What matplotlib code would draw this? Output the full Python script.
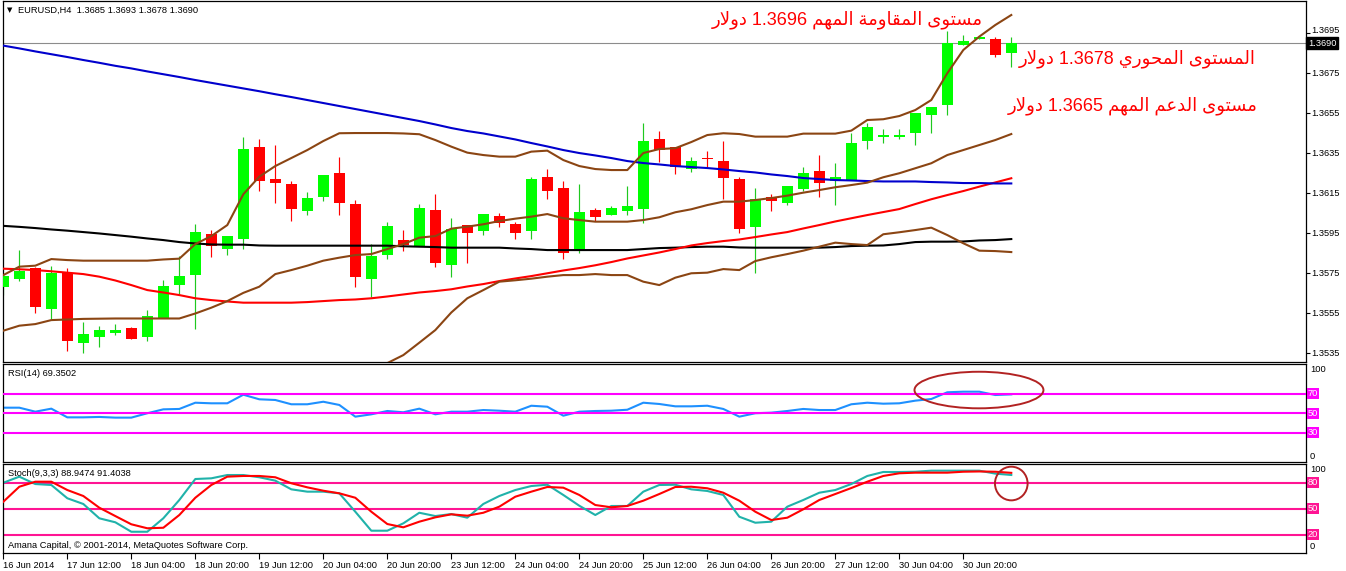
import numpy as np
import matplotlib
matplotlib.use("Agg")
import matplotlib.pyplot as plt
import matplotlib.transforms as mtransforms
from matplotlib.patches import Ellipse

plt.rcParams['font.family'] = ['Liberation Sans', 'DejaVu Sans']

# ---------------- data ----------------
symbol = "EURUSD,H4"
x_labels = ['16 Jun 2014', '17 Jun 12:00', '18 Jun 04:00', '18 Jun 20:00', '19 Jun 12:00',
            '20 Jun 04:00', '20 Jun 20:00', '23 Jun 12:00', '24 Jun 04:00', '24 Jun 20:00',
            '25 Jun 12:00', '26 Jun 04:00', '26 Jun 20:00', '27 Jun 12:00', '30 Jun 04:00',
            '30 Jun 20:00']

opens = [1.35682, 1.35722, 1.35775, 1.35572, 1.35748, 1.35402, 1.35432, 1.35452, 1.35475, 1.35432,
         1.35525, 1.35692, 1.35742, 1.35945, 1.35872, 1.35922, 1.36378, 1.36218, 1.36195, 1.36062,
         1.36132, 1.36248, 1.36095, 1.35722, 1.35842, 1.35915, 1.35885, 1.36065, 1.35792, 1.35988,
         1.35962, 1.36035, 1.35995, 1.35962, 1.36228, 1.36175, 1.35868, 1.36065, 1.36042, 1.36062,
         1.36072, 1.36418, 1.36382, 1.36268, 1.36318, 1.36308, 1.36218, 1.35982, 1.36132, 1.36102,
         1.36172, 1.36258, 1.36208, 1.36215, 1.36408, 1.36428, 1.36428, 1.36448, 1.36538, 1.36588,
         1.36888, 1.36918, 1.36918, 1.36850]
highs = [1.35750, 1.35865, 1.35778, 1.35785, 1.35773, 1.35505, 1.35485, 1.35495, 1.35482, 1.35565,
         1.35715, 1.35835, 1.35995, 1.35965, 1.35935, 1.36428, 1.36418, 1.36388, 1.36208, 1.36155,
         1.36238, 1.36328, 1.36115, 1.35895, 1.36005, 1.35965, 1.36095, 1.36145, 1.36025, 1.35988,
         1.36045, 1.36048, 1.36005, 1.36228, 1.36268, 1.36208, 1.36195, 1.36075, 1.36085, 1.36185,
         1.36498, 1.36458, 1.36382, 1.36332, 1.36358, 1.36408, 1.36228, 1.36175, 1.36145, 1.36185,
         1.36278, 1.36338, 1.36298, 1.36448, 1.36498, 1.36468, 1.36468, 1.36548, 1.36578, 1.36958,
         1.36938, 1.36928, 1.36932, 1.36930]
lows = [1.35640, 1.35712, 1.35552, 1.35522, 1.35362, 1.35352, 1.35382, 1.35442, 1.35422, 1.35412,
        1.35525, 1.35645, 1.35472, 1.35832, 1.35842, 1.35872, 1.36162, 1.36102, 1.36012, 1.36042,
        1.36112, 1.36042, 1.35682, 1.35628, 1.35822, 1.35862, 1.35885, 1.35782, 1.35732, 1.35802,
        1.35942, 1.35982, 1.35922, 1.35922, 1.36122, 1.35822, 1.35852, 1.36012, 1.36042, 1.36042,
        1.36002, 1.36305, 1.36245, 1.36255, 1.36278, 1.36122, 1.35952, 1.35752, 1.36062, 1.36092,
        1.36162, 1.36132, 1.36092, 1.36215, 1.36368, 1.36398, 1.36418, 1.36388, 1.36448, 1.36538,
        1.36888, 1.36918, 1.36828, 1.36780]
closes = [1.35735, 1.35762, 1.35582, 1.35752, 1.35412, 1.35445, 1.35465, 1.35465, 1.35422, 1.35535,
          1.35685, 1.35735, 1.35955, 1.35885, 1.35935, 1.36368, 1.36208, 1.36202, 1.36072, 1.36125,
          1.36238, 1.36102, 1.35732, 1.35835, 1.35985, 1.35892, 1.36075, 1.35802, 1.35972, 1.35952,
          1.36045, 1.36002, 1.35952, 1.36218, 1.36162, 1.35852, 1.36055, 1.36032, 1.36075, 1.36085,
          1.36408, 1.36365, 1.36278, 1.36308, 1.36318, 1.36225, 1.35972, 1.36118, 1.36112, 1.36185,
          1.36248, 1.36202, 1.36228, 1.36398, 1.36478, 1.36438, 1.36438, 1.36548, 1.36578, 1.36898,
          1.36908, 1.36928, 1.36838, 1.36900]

ma_blue = [1.36887, 1.36873, 1.36858, 1.36844, 1.36830, 1.36815, 1.36801, 1.36786, 1.36773, 1.36758,
           1.36744, 1.36730, 1.36715, 1.36701, 1.36687, 1.36673, 1.36659, 1.36644, 1.36630, 1.36615,
           1.36600, 1.36585, 1.36570, 1.36555, 1.36540, 1.36525, 1.36510, 1.36493, 1.36475, 1.36460,
           1.36448, 1.36433, 1.36418, 1.36400, 1.36383, 1.36365, 1.36350, 1.36338, 1.36325, 1.36310,
           1.36300, 1.36293, 1.36285, 1.36280, 1.36275, 1.36268, 1.36260, 1.36253, 1.36243, 1.36235,
           1.36225, 1.36220, 1.36215, 1.36213, 1.36210, 1.36208, 1.36208, 1.36208, 1.36205, 1.36203,
           1.36200, 1.36200, 1.36198, 1.36198]
ma_black = [1.35986, 1.35981, 1.35975, 1.35968, 1.35962, 1.35955, 1.35948, 1.35940, 1.35932, 1.35923,
            1.35915, 1.35905, 1.35898, 1.35893, 1.35892, 1.35892, 1.35888, 1.35887, 1.35887, 1.35887,
            1.35887, 1.35887, 1.35887, 1.35887, 1.35887, 1.35884, 1.35882, 1.35880, 1.35877, 1.35877,
            1.35877, 1.35877, 1.35873, 1.35870, 1.35865, 1.35865, 1.35865, 1.35865, 1.35865, 1.35865,
            1.35870, 1.35875, 1.35877, 1.35880, 1.35882, 1.35882, 1.35878, 1.35877, 1.35877, 1.35877,
            1.35877, 1.35877, 1.35880, 1.35885, 1.35887, 1.35888, 1.35895, 1.35905, 1.35907, 1.35907,
            1.35908, 1.35913, 1.35915, 1.35920]
ma_red = [1.35772, 1.35769, 1.35765, 1.35759, 1.35752, 1.35745, 1.35732, 1.35713, 1.35690, 1.35665,
          1.35653, 1.35640, 1.35624, 1.35615, 1.35608, 1.35602, 1.35602, 1.35602, 1.35602, 1.35605,
          1.35610, 1.35615, 1.35618, 1.35624, 1.35633, 1.35643, 1.35653, 1.35660, 1.35669, 1.35683,
          1.35695, 1.35710, 1.35723, 1.35735, 1.35749, 1.35763, 1.35775, 1.35789, 1.35805, 1.35823,
          1.35838, 1.35853, 1.35870, 1.35888, 1.35900, 1.35910, 1.35918, 1.35930, 1.35943, 1.35955,
          1.35973, 1.35990, 1.36008, 1.36024, 1.36040, 1.36055, 1.36070, 1.36095, 1.36119, 1.36140,
          1.36160, 1.36182, 1.36203, 1.36224]
bb_upper = [1.35740, 1.35782, 1.35787, 1.35820, 1.35815, 1.35812, 1.35812, 1.35812, 1.35812, 1.35812,
            1.35818, 1.35822, 1.35895, 1.35935, 1.35990, 1.36144, 1.36232, 1.36285, 1.36325, 1.36365,
            1.36410, 1.36449, 1.36450, 1.36450, 1.36450, 1.36448, 1.36444, 1.36415, 1.36382, 1.36352,
            1.36340, 1.36332, 1.36332, 1.36357, 1.36362, 1.36315, 1.36285, 1.36270, 1.36265, 1.36265,
            1.36350, 1.36370, 1.36374, 1.36405, 1.36440, 1.36449, 1.36445, 1.36432, 1.36432, 1.36432,
            1.36447, 1.36447, 1.36447, 1.36462, 1.36515, 1.36519, 1.36535, 1.36565, 1.36615, 1.36749,
            1.36865, 1.36932, 1.36990, 1.37040]
bb_middle = [1.35462, 1.35487, 1.35495, 1.35515, 1.35518, 1.35521, 1.35522, 1.35523, 1.35523, 1.35523,
             1.35523, 1.35523, 1.35548, 1.35577, 1.35610, 1.35651, 1.35682, 1.35745, 1.35765, 1.35787,
             1.35812, 1.35827, 1.35840, 1.35845, 1.35870, 1.35895, 1.35927, 1.35935, 1.35972, 1.35982,
             1.35994, 1.36010, 1.36022, 1.36032, 1.36045, 1.36024, 1.36015, 1.36007, 1.36007, 1.36007,
             1.36015, 1.36029, 1.36054, 1.36069, 1.36090, 1.36107, 1.36107, 1.36115, 1.36125, 1.36137,
             1.36152, 1.36165, 1.36179, 1.36190, 1.36202, 1.36229, 1.36249, 1.36274, 1.36299, 1.36340,
             1.36365, 1.36390, 1.36415, 1.36445]
nan = float('nan')
bb_lower = [nan] * 23 + [
            1.35240, 1.35300, 1.35340, 1.35402, 1.35465, 1.35553, 1.35624, 1.35665, 1.35707, 1.35714,
            1.35722, 1.35732, 1.35740, 1.35740, 1.35745, 1.35740, 1.35740, 1.35707, 1.35690, 1.35727,
            1.35749, 1.35752, 1.35770, 1.35765, 1.35810, 1.35829, 1.35845, 1.35862, 1.35882, 1.35902,
            1.35895, 1.35890, 1.35944, 1.35954, 1.35965, 1.35977, 1.35940, 1.35899, 1.35862, 1.35860,
            1.35855]

rsi = [55.7, 55.7, 51.6, 54.7, 45.8, 45.8, 46.2, 45.5, 45.5, 50.0,
       54.0, 54.4, 60.8, 60.2, 60.2, 69.0, 64.3, 63.6, 59.2, 59.2,
       61.8, 58.5, 46.5, 48.9, 52.3, 51.0, 54.7, 48.9, 51.6, 51.6,
       53.3, 52.6, 51.6, 57.7, 56.7, 47.5, 51.6, 52.3, 52.6, 53.6,
       60.8, 59.5, 57.1, 57.1, 57.7, 54.4, 46.5, 50.0, 50.6, 52.3,
       54.4, 53.3, 53.3, 59.2, 60.8, 59.8, 60.2, 62.9, 64.6, 71.5,
       72.1, 72.1, 68.7, 69.3502]
stoch_main = [80.0, 87.0, 78.5, 77.4, 62.1, 55.5, 39.0, 34.4, 23.5, 23.5,
              39.0, 60.1, 84.3, 85.1, 88.9, 88.9, 86.3, 82.4, 72.4, 69.7,
              69.7, 67.8, 46.6, 24.7, 24.7, 33.2, 45.4, 41.6, 43.9, 39.7,
              55.5, 64.7, 71.6, 76.2, 77.7, 65.9, 53.5, 42.8, 53.2, 53.2,
              69.7, 77.4, 77.7, 72.4, 70.5, 65.9, 40.8, 33.9, 35.1, 52.4,
              60.1, 68.5, 71.6, 78.5, 87.8, 92.4, 92.4, 92.7, 93.9, 93.9,
              93.9, 93.9, 90.5, 88.9474]
stoch_signal = [58.1, 75.4, 81.2, 81.2, 71.6, 64.7, 51.2, 41.6, 32.1, 27.5,
                28.1, 42.8, 62.7, 77.4, 87.0, 87.8, 87.8, 86.3, 79.4, 74.7,
                70.8, 67.8, 62.7, 46.6, 32.4, 28.6, 35.1, 40.1, 43.6, 42.0,
                45.4, 52.4, 63.9, 69.7, 75.1, 74.3, 65.9, 54.3, 51.7, 53.2,
                59.3, 67.0, 75.1, 75.4, 73.6, 68.5, 59.3, 46.6, 37.0, 39.7,
                49.4, 60.1, 67.0, 73.9, 81.2, 87.8, 90.9, 91.6, 91.6, 91.6,
                92.7, 93.0, 92.7, 91.4038]

price_ticks = [1.3695, 1.3675, 1.3655, 1.3635, 1.3615, 1.3595, 1.3575, 1.3555, 1.3535]
rsi_levels = [70, 50, 30]
stoch_levels = [80, 50, 20]

notes = [("مستوى المقاومة المهم 1.3696 دولار", 983, 24),
         ("المستوى المحوري 1.3678 دولار", 1256, 63),
         ("مستوى الدعم المهم 1.3665 دولار", 1258, 110)]

for arr in (opens, highs, lows, closes, ma_blue, ma_black, ma_red, bb_upper, bb_middle,
            bb_lower, rsi, stoch_main, stoch_signal):
    assert len(arr) == 64, len(arr)

# ---------------- Arabic shaping (presentation forms, visual order) ----------------
AR = {
    'ا': ('\uFE8D', '\uFE8E', None, None),
    'د': ('\uFEA9', '\uFEAA', None, None),
    'ر': ('\uFEAD', '\uFEAE', None, None),
    'و': ('\uFEED', '\uFEEE', None, None),
    'ى': ('\uFEEF', '\uFEF0', None, None),
    'ة': ('\uFE93', '\uFE94', None, None),
    'ل': ('\uFEDD', '\uFEDE', '\uFEDF', '\uFEE0'),
    'م': ('\uFEE1', '\uFEE2', '\uFEE3', '\uFEE4'),
    'س': ('\uFEB1', '\uFEB2', '\uFEB3', '\uFEB4'),
    'ت': ('\uFE95', '\uFE96', '\uFE97', '\uFE98'),
    'ق': ('\uFED5', '\uFED6', '\uFED7', '\uFED8'),
    'ه': ('\uFEE9', '\uFEEA', '\uFEEB', '\uFEEC'),
    'ح': ('\uFEA1', '\uFEA2', '\uFEA3', '\uFEA4'),
    'ي': ('\uFEF1', '\uFEF2', '\uFEF3', '\uFEF4'),
    'ع': ('\uFEC9', '\uFECA', '\uFECB', '\uFECC'),
}


def shape_word(w):
    if not any(ch in AR for ch in w):
        return w
    out = []
    n = len(w)
    i = 0
    while i < n:
        ch = w[i]
        prev = w[i - 1] if i > 0 else None
        joins_prev = prev is not None and prev in AR and AR[prev][2] is not None
        if ch == 'ل' and i + 1 < n and w[i + 1] == 'ا':
            out.append('\uFEFC' if joins_prev else '\uFEFB')
            i += 2
            continue
        f = AR[ch]
        nxt = w[i + 1] if i + 1 < n else None
        joins_next = f[2] is not None and nxt is not None and nxt in AR
        if joins_prev and joins_next:
            g = f[3]
        elif joins_prev:
            g = f[1]
        elif joins_next:
            g = f[2]
        else:
            g = f[0]
        out.append(g)
        i += 1
    return ''.join(reversed(out))


def visual(s):
    return ' '.join(shape_word(w) for w in reversed(s.split(' ')))


# ---------------- figure ----------------
W, H = 1346, 571
fig = plt.figure(figsize=(W / 100, H / 100), dpi=100)
fig.patch.set_facecolor('white')


def rect(x0, y0, x1, y1):
    return [x0 / W, 1 - y1 / H, (x1 - x0) / W, (y1 - y0) / H]


ax = fig.add_axes(rect(3, 0.5, 1306, 361.5))
ax_rsi = fig.add_axes(rect(3, 364, 1306, 462))
ax_sto = fig.add_axes(rect(3, 464, 1306, 553))

x = np.arange(len(closes))
XL = (-0.02, 81.42)
for a in (ax, ax_rsi, ax_sto):
    a.set_xlim(*XL)
    for s in a.spines.values():
        s.set_linewidth(0.9)
        s.set_color('black')
    a.set_facecolor('white')

FS = 6.7

# --- main panel ---
o = np.array(opens); h = np.array(highs); l = np.array(lows); c = np.array(closes)
bull = c > o
body_col = np.where(bull, '#00FF00', '#FF0000')
wick_col = np.where(bull, '#1FC81F', '#FF0000')
ax.vlines(x, l, h, colors=wick_col, lw=0.85, zorder=2)
ax.bar(x, np.maximum(np.abs(c - o), 0.00006), bottom=np.minimum(o, c), width=0.66,
       color=body_col, lw=0, zorder=3)

ax.axhline(c[-1], color='#8C8C8C', lw=0.8, zorder=1)
LW = 1.5
ax.plot(x, ma_black, color='black', lw=LW, zorder=4)
ax.plot(x, ma_red, color='#FF0000', lw=LW, zorder=4)
ax.plot(x, ma_blue, color='#0000CD', lw=LW, zorder=4)
for band in (bb_upper, bb_middle, bb_lower):
    ax.plot(x, band, color='#8B4513', lw=LW, zorder=5)

ax.set_ylim(1.35308, 1.371125)
ax.set_xticks([])
ax.yaxis.tick_right()
ax.set_yticks(price_ticks)
ax.set_yticklabels([])
ax.tick_params(axis='y', direction='out', length=3, width=0.8)

blend_main = mtransforms.blended_transform_factory(ax.transAxes, ax.transData)
lift = mtransforms.ScaledTranslation(0, 2.5 / 100, fig.dpi_scale_trans)
for v in price_ticks:
    tr = blend_main + lift if abs(v - c[-1]) < 0.0008 else blend_main
    ax.text(1 + 5 / 1303, v, f'{v:.4f}', transform=tr, ha='left', va='center',
            fontsize=FS, clip_on=False)
ax.text(1 + 2 / 1303, c[-1], f'{c[-1]:.4f}', transform=blend_main, ha='left', va='center',
        fontsize=FS, color='white', zorder=10,
        bbox=dict(boxstyle='square,pad=0.2', fc='black', ec='black'))

fig.text(10 / W, 1 - 10.5 / H, '▼', fontsize=5, ha='center', va='center', family='DejaVu Sans')
fig.text(18 / W, 1 - 10.5 / H,
         f'{symbol}  {opens[-1]:.4f} {highs[-1]:.4f} {lows[-1]:.4f} {closes[-1]:.4f}',
         fontsize=FS, ha='left', va='center')

for txt, xr, yb in notes:
    fig.text(xr / W, 1 - yb / H, visual(txt), fontsize=13, color='#FF0000', ha='right',
             va='baseline', family=['Liberation Sans', 'DejaVu Sans'])

# --- RSI panel ---
ax_rsi.set_ylim(0, 100.5)
ax_rsi.plot(x, rsi, color='#1E90FF', lw=LW, zorder=2)
for lv in rsi_levels:
    ax_rsi.axhline(lv, color='#FF00FF', lw=1.5, zorder=3)
ax_rsi.set_xticks([]); ax_rsi.set_yticks([])
blend_rsi = mtransforms.blended_transform_factory(ax_rsi.transAxes, ax_rsi.transData)
for lv in rsi_levels:
    ax_rsi.text(1 + 2 / 1303, lv, str(lv), transform=blend_rsi, ha='left', va='center',
                fontsize=FS, color='white',
                bbox=dict(boxstyle='square,pad=0.12', fc='#FF00FF', ec='none'))
ax_rsi.text(1 + 4 / 1303, 99, '100', transform=blend_rsi, ha='left', va='top', fontsize=FS)
ax_rsi.text(1 + 4 / 1303, 1.5, '0', transform=blend_rsi, ha='left', va='bottom', fontsize=FS)
ax_rsi.add_patch(Ellipse((60.98, 73.8), width=8.06, height=37.5, fill=False,
                         ec='#B22222', lw=1.4, zorder=6, clip_on=False))
fig.text(7.5 / W, 1 - 374 / H, f'RSI(14) {rsi[-1]:.4f}', fontsize=FS, ha='left', va='center')

# --- Stochastic panel ---
ax_sto.set_ylim(-1, 101.6)
for lv in stoch_levels:
    ax_sto.axhline(lv, color='#FF1493', lw=1.5, zorder=1)
ax_sto.plot(x, stoch_main, color='#20B2AA', lw=LW, zorder=2)
ax_sto.plot(x, stoch_signal, color='#FF0000', lw=LW, zorder=3)
ax_sto.set_yticks([])
blend_sto = mtransforms.blended_transform_factory(ax_sto.transAxes, ax_sto.transData)
for lv in stoch_levels:
    ax_sto.text(1 + 2 / 1303, lv, str(lv), transform=blend_sto, ha='left', va='center',
                fontsize=FS, color='white',
                bbox=dict(boxstyle='square,pad=0.12', fc='#FF1493', ec='none'))
ax_sto.text(1 + 4 / 1303, 100.5, '100', transform=blend_sto, ha='left', va='top', fontsize=FS)
ax_sto.text(1 + 4 / 1303, 1.0, '0', transform=blend_sto, ha='left', va='bottom', fontsize=FS)
ax_sto.add_patch(Ellipse((63.0, 79.1), width=2.04, height=38.8, fill=False,
                         ec='#B22222', lw=1.4, zorder=6, clip_on=False))
fig.text(7.5 / W, 1 - 473.5 / H,
         f'Stoch(9,3,3) {stoch_main[-1]:.4f} {stoch_signal[-1]:.4f}',
         fontsize=FS, ha='left', va='center')
fig.text(7.5 / W, 1 - 545.5 / H, 'Amana Capital, © 2001-2014, MetaQuotes Software Corp.',
         fontsize=FS, ha='left', va='center')

ax_sto.set_xticks(np.arange(0, 64, 4))
ax_sto.set_xticklabels(x_labels)
ax_sto.tick_params(axis='x', direction='out', length=4, width=0.8, pad=1.5, labelsize=FS)
for lbl in ax_sto.get_xticklabels():
    lbl.set_ha('left')

fig.savefig('out.png', dpi=100)
